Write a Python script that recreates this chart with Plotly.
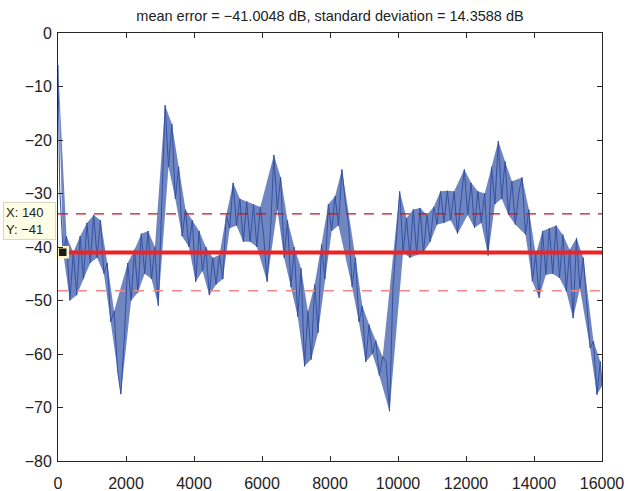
import plotly.graph_objects as go

# ---- data ----
mean_err = -41.0048
std_dev = 14.3588
tip_x, tip_y = 140, -41

head_samples = [0, 20]
head_db = [-6, -20]
# error values (dB) every 100 samples starting at sample 50, alternating upper/lower swings
err_db = [
    -29, -41, -38, -50, -41, -49, -38, -46, -35.5, -43,
    -34, -42, -35, -45, -43, -54, -52, -63, -67.5, -57,
    -43, -50, -40.5, -48.5, -37.5, -45, -37, -46, -40, -51,
    -33, -13.5, -25, -17, -31, -25, -38, -33, -40, -35,
    -46.5, -37, -44.5, -40, -49, -42, -47, -41.5, -46, -34,
    -36.5, -28, -36, -31, -39, -31.5, -39, -32, -40, -32.5,
    -38, -46.5, -37, -22.8, -33, -27, -42, -35, -47.5, -40,
    -53, -44, -62.3, -52, -61, -47, -56, -39.5, -46, -32,
    -37, -30.5, -36, -25.5, -31.5, -36, -47.5, -42, -54, -51,
    -61.5, -54.5, -60, -57.5, -64, -60.5, -61.5, -70.7, -48, -39,
    -29.6, -41, -34.6, -42, -33, -41.5, -32.7, -41, -34, -39,
    -32.5, -35.8, -29.6, -35.5, -29.5, -35, -29.6, -37.5, -31, -25.5,
    -34, -28, -36.4, -29.6, -35.5, -30, -41.6, -25, -32, -20.2,
    -31, -24, -34, -27.7, -35.8, -30, -27, -37.7, -33, -46.4,
    -41.4, -49.5, -37, -45.2, -36.5, -45, -36, -45.8, -37.7, -48.3,
    -40.5, -53.3, -38.3, -47.7, -42, -50.8, -58.9, -57.6, -67.6, -61.4,
]
tail_samples = [16000]
tail_db = [-66]

x_ticks = [0, 2000, 4000, 6000, 8000, 10000, 12000, 14000, 16000]
x_tick_text = ["0", "2000", "4000", "6000", "8000", "10000", "12000", "14000", "16000"]
y_ticks = [-80, -70, -60, -50, -40, -30, -20, -10, 0]

samples = head_samples + [100 * k + 50 for k in range(len(err_db))] + tail_samples
values = head_db + err_db + tail_db

# envelope of the swings: polygon through the local peaks, back through the local troughs
n = len(values)
peak_idx = [i for i in range(n)
            if i in (0, n - 1) or (values[i] >= values[i - 1] and values[i] >= values[i + 1])]
trough_idx = [i for i in range(n)
              if i in (0, n - 1) or (values[i] <= values[i - 1] and values[i] <= values[i + 1])]
band_x = [samples[i] for i in peak_idx] + [samples[i] for i in trough_idx[::-1]]
band_y = [values[i] for i in peak_idx] + [values[i] for i in trough_idx[::-1]]

FONT = "Liberation Sans, Arial, Helvetica, sans-serif"
BLUE = "#3352a5"

fig = go.Figure()
fig.add_trace(go.Scatter(x=band_x, y=band_y, mode="lines", fill="toself",
                         fillcolor="rgba(51,82,165,0.7)", line=dict(width=0),
                         hoverinfo="skip"))
fig.add_trace(go.Scatter(x=samples, y=values, mode="lines",
                         line=dict(color=BLUE, width=1), hoverinfo="skip"))
fig.add_trace(go.Scatter(x=[0, 16000], y=[mean_err, mean_err], mode="lines",
                         line=dict(color="#ee2222", width=4), hoverinfo="skip"))
fig.add_trace(go.Scatter(x=[0, 16000], y=[mean_err + std_dev / 2] * 2, mode="lines",
                         line=dict(color="#c81414", width=1.2, dash="10px,8px"), hoverinfo="skip"))
fig.add_trace(go.Scatter(x=[0, 16000], y=[mean_err - std_dev / 2] * 2, mode="lines",
                         line=dict(color="#f08888", width=1.5, dash="10px,9px"), hoverinfo="skip"))
fig.add_trace(go.Scatter(x=[tip_x], y=[tip_y], mode="markers", cliponaxis=False,
                         hoverinfo="skip",
                         marker=dict(symbol="square", size=10, color="#1a1a1a",
                                     line=dict(color="#fbf6c4", width=2.5))))

fig.add_annotation(x=tip_x, y=tip_y, xref="x", yref="y", showarrow=False,
                   text=f"X: {tip_x}<br>Y: \u2212{abs(tip_y)}", align="left",
                   xanchor="right", yanchor="bottom", xshift=-7, yshift=12, width=47,
                   font=dict(family=FONT, size=13, color="#222"),
                   bgcolor="#fefde6", bordercolor="#d8d8c0", borderwidth=1, borderpad=2)

axis_common = dict(showline=True, linecolor="#262626", linewidth=1, mirror="allticks",
                   ticks="inside", ticklen=5, tickcolor="#262626", showgrid=False,
                   zeroline=False, automargin=False,
                   tickfont=dict(family=FONT, size=16, color="#222"))

fig.update_xaxes(range=[0, 16000], tickvals=x_ticks, ticktext=x_tick_text,
                 ticklabelstandoff=8, **axis_common)
fig.update_yaxes(range=[-80, 0], tickvals=y_ticks, ticklabelstandoff=2, **axis_common)

fig.update_layout(
    width=628, height=491,
    margin=dict(l=58, r=26, t=33, b=30, autoexpand=False),
    paper_bgcolor="white", plot_bgcolor="white",
    showlegend=False, hovermode=False,
    title=dict(text="mean error = \u221241.0048 dB, standard deviation = 14.3588 dB",
               x=(58 + 272) / 628, xanchor="center", y=1 - 16 / 491, yanchor="middle",
               font=dict(family=FONT, size=14.5, color="#222")),
)

# remove the browser's default 8px page margin so the figure fills the window exactly
fig.write_html("out.html", config={"displayModeBar": False},
               post_script="document.body.style.margin='0';document.body.style.padding='0';")
